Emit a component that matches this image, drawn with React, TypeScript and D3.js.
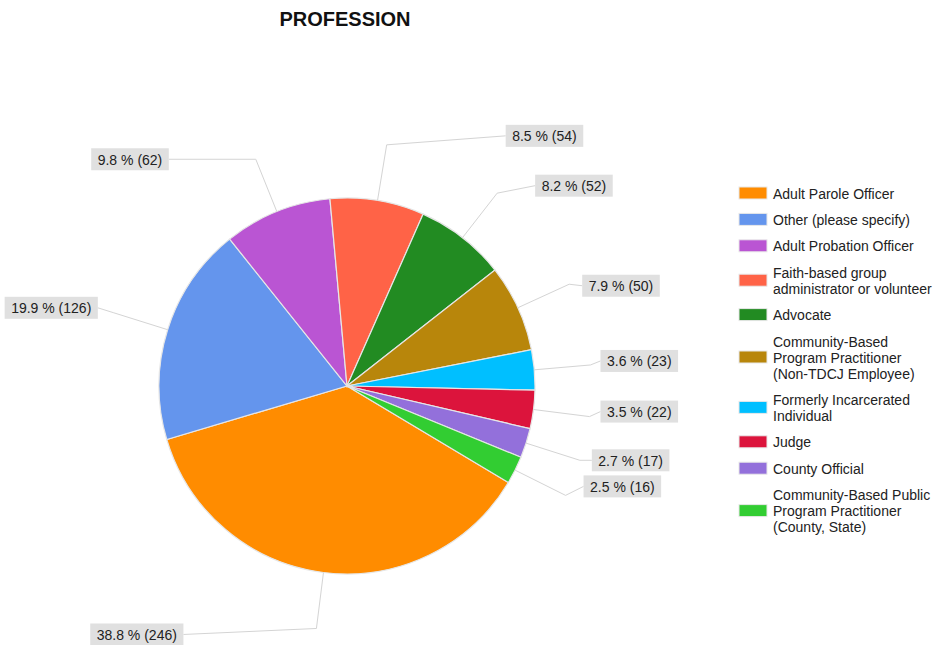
import React, { useEffect, useRef } from "react";
import * as d3 from "d3";

const categories = [
  "Adult Parole Officer",
  "Other (please specify)",
  "Adult Probation Officer",
  "Faith-based group administrator or volunteer",
  "Advocate",
  "Community-Based Program Practitioner (Non-TDCJ Employee)",
  "Formerly Incarcerated Individual",
  "Judge",
  "County Official",
  "Community-Based Public Program Practitioner (County, State)",
];
const counts = [246, 126, 62, 54, 52, 50, 23, 22, 17, 16];
const percents = ["38.8", "19.9", "9.8", "8.5", "8.2", "7.9", "3.6", "3.5", "2.7", "2.5"];
const colors = [
  "#FF8C00", "#6495ED", "#BA55D3", "#FF6347", "#228B22",
  "#B8860B", "#00BFFF", "#DC143C", "#9370DB", "#32CD32",
];
const legendLines = [
  ["Adult Parole Officer"],
  ["Other (please specify)"],
  ["Adult Probation Officer"],
  ["Faith-based group", "administrator or volunteer"],
  ["Advocate"],
  ["Community-Based", "Program Practitioner", "(Non-TDCJ Employee)"],
  ["Formerly Incarcerated", "Individual"],
  ["Judge"],
  ["County Official"],
  ["Community-Based Public", "Program Practitioner", "(County, State)"],
];
// label layout tweaks (horizontal leg length, vertical shift)
const labelLeg = [133, 16, 87, 119, 38, 13, 10, 11, 12, 18];
const labelDy = [6, -5, 0, -9, -7.5, 1.5, -4, -5, 0, -9];

const W = 936, H = 645;
const CX = 347, CY = 386, R = 188;
const START = (120.9 * Math.PI) / 180;
const FONT = "'Liberation Sans', Arial, sans-serif";

export default function App() {
  const ref = useRef<SVGSVGElement>(null);
  useEffect(() => {
    const svg = d3.select(ref.current);
    svg.selectAll("*").remove();
    svg.append("rect").attr("width", W).attr("height", H).attr("fill", "#fff");

    svg.append("text")
      .attr("x", 345).attr("y", 26)
      .attr("text-anchor", "middle")
      .attr("font-family", FONT).attr("font-size", 20).attr("font-weight", "bold")
      .attr("fill", "#111")
      .text("PROFESSION");

    const data = counts.map((v, i) => ({ v, i }));
    const pie = d3.pie<any>().value((d) => d.v).sort(null)
      .startAngle(START).endAngle(START + 2 * Math.PI);
    const arcs = pie(data);
    const arc = d3.arc<any>().innerRadius(0).outerRadius(R);
    const g = svg.append("g").attr("transform", `translate(${CX},${CY})`);
    g.selectAll("path").data(arcs).enter().append("path")
      .attr("d", arc as any)
      .attr("fill", (d: any) => colors[d.data.i])
      .attr("stroke", "#e6e6e6").attr("stroke-width", 1.2);

    // labels
    const lg = svg.append("g");
    arcs.forEach((a: any) => {
      const i = a.data.i;
      const mid = (a.startAngle + a.endAngle) / 2;
      const sx = Math.sin(mid), sy = -Math.cos(mid);
      const p0 = [CX + R * sx, CY + R * sy];
      const p1 = [CX + R * 1.3 * sx, CY + R * 1.3 * sy];
      const right = sx >= 0;
      const ly = p1[1] + labelDy[i];
      const ex = right ? p1[0] + labelLeg[i] : p1[0] - labelLeg[i];
      lg.append("polyline")
        .attr("points", `${p0[0]},${p0[1]} ${p1[0]},${p1[1]} ${ex},${ly}`)
        .attr("fill", "none").attr("stroke", "#d4d4d4").attr("stroke-width", 1);
      const txt = `${percents[i]} % (${counts[i]})`;
      const box = lg.append("rect").attr("fill", "#e0e0e0");
      const t = lg.append("text")
        .attr("font-family", FONT).attr("font-size", 14).attr("fill", "#222")
        .attr("dominant-baseline", "central")
        .text(txt);
      const tw = (t.node() as SVGTextElement).getComputedTextLength();
      const pad = 6.5;
      const bw = tw + pad * 2;
      const bx = right ? ex : ex - bw;
      box.attr("x", bx).attr("y", ly - 11).attr("width", bw).attr("height", 22);
      t.attr("x", bx + pad).attr("y", ly + 0.5);
    });

    // legend
    const leg = svg.append("g");
    let cursor = 193;
    legendLines.forEach((lines, i) => {
      const ys = lines.map((_, k) => cursor + k * 16);
      const midY = (ys[0] + ys[ys.length - 1]) / 2;
      leg.append("rect")
        .attr("x", 739).attr("y", midY - 6).attr("width", 28).attr("height", 12)
        .attr("fill", colors[i]).attr("stroke", "#e8e8e8").attr("stroke-width", 1);
      lines.forEach((ln, k) => {
        leg.append("text")
          .attr("x", 773).attr("y", ys[k] + 0.5)
          .attr("dominant-baseline", "central")
          .attr("font-family", FONT).attr("font-size", 14).attr("fill", "#222")
          .text(ln);
      });
      cursor = ys[ys.length - 1] + 26.4;
    });
  }, []);
  return (
    <svg
      ref={ref}
      width={W}
      height={H}
      style={{ position: "absolute", left: 0, top: 0 }}
    />
  );
}
